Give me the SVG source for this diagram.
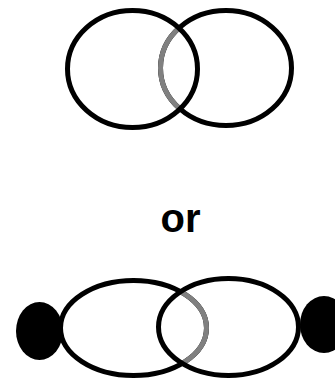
<svg xmlns="http://www.w3.org/2000/svg" width="335" height="378" viewBox="0 0 335 378">
<style>
.ring{fill:none;stroke:#000;stroke-width:5}
.grey{fill:none;stroke:#808080;stroke-width:5}
.blob{fill:#000;stroke:none}
.lbl{font-family:"Liberation Sans",Arial,sans-serif;font-weight:bold;font-size:40px;fill:#000}
</style>
<defs>
<clipPath id="clipTopLeft"><ellipse cx="132.5" cy="69" rx="65" ry="58.5"/></clipPath>
<clipPath id="clipBotRight"><ellipse cx="228.5" cy="327" rx="70" ry="48.5"/></clipPath>
</defs>
<rect width="335" height="378" fill="#fff"/>
<g id="top-right-ring"><ellipse class="ring" cx="226" cy="68" rx="65.5" ry="57.5"/></g>
<g id="top-overlap"><ellipse class="grey" cx="226" cy="68" rx="65.5" ry="57.5" clip-path="url(#clipTopLeft)"/></g>
<g id="top-left-ring"><ellipse class="ring" cx="132.5" cy="69" rx="65" ry="58.5"/></g>
<g id="or-label"><text class="lbl" x="160.5" y="232">or</text></g>
<g id="bottom-left-ring"><ellipse class="ring" cx="133.5" cy="328" rx="73" ry="47.5"/></g>
<g id="bottom-overlap"><ellipse class="grey" cx="133.5" cy="328" rx="73" ry="47.5" clip-path="url(#clipBotRight)"/></g>
<g id="bottom-right-ring"><ellipse class="ring" cx="228.5" cy="327" rx="70" ry="48.5"/></g>
<g id="left-blob"><ellipse class="blob" cx="39.5" cy="331" rx="23.5" ry="29"/></g>
<g id="right-blob"><ellipse class="blob" cx="324" cy="324.5" rx="24" ry="28.5"/></g>
</svg>
